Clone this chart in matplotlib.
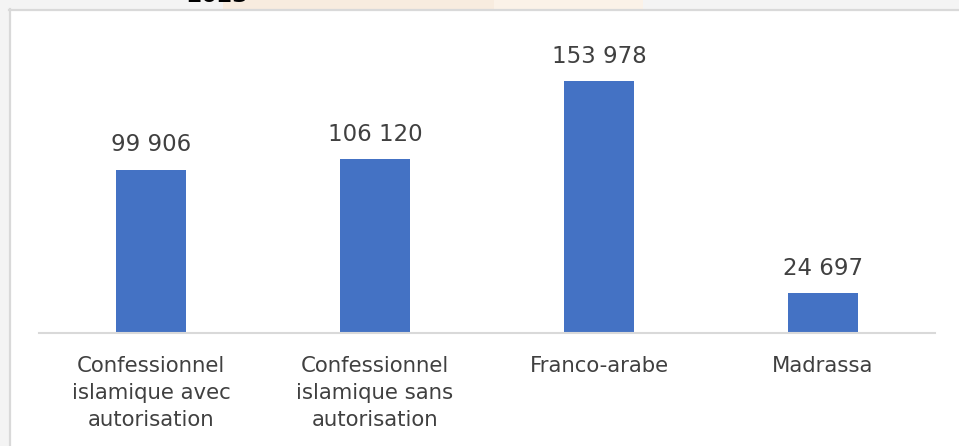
"""Effectifs par type d'ecole, barres."""
import matplotlib.pyplot as plt
from matplotlib.patches import Rectangle
from matplotlib.lines import Line2D

categories = ["Confessionnel\nislamique avec\nautorisation",
              "Confessionnel\nislamique sans\nautorisation",
              "Franco-arabe",
              "Madrassa"]
values = [99906, 106120, 153978, 24697]
value_labels = ["99 906", "106 120", "153 978", "24 697"]

W, H = 959, 446
TXT = "#404040"
GRID = "#d9d9d9"


def fx(px):
    return px / W


def fy(py):
    return 1 - py / H


def main():
    """Draw chart."""
    fig = plt.figure(figsize=(W / 100, H / 100), dpi=100)
    fig.patch.set_facecolor("white")

    # bandeau du haut (capture rognee)
    fig.add_artist(Rectangle((0, fy(9)), 1, 1 - fy(9), transform=fig.transFigure,
                             facecolor="#f4f4f4", edgecolor="none", zorder=0))
    fig.add_artist(Rectangle((0, 0), fx(9), 1, transform=fig.transFigure,
                             facecolor="#f4f4f4", edgecolor="none", zorder=0))
    fig.add_artist(Rectangle((fx(223), fy(9)), fx(271), 1 - fy(9),
                             transform=fig.transFigure, facecolor="#f8ecdf",
                             edgecolor="none", zorder=0))
    fig.add_artist(Rectangle((fx(494), fy(9)), fx(149), 1 - fy(9),
                             transform=fig.transFigure, facecolor="#fbf2e8",
                             edgecolor="none", zorder=0))
    fig.text(fx(217), fy(2), "2023", ha="center", va="baseline",
             fontsize=16, fontweight="bold", color="black")
    fig.add_artist(Line2D([fx(9), 1], [fy(9.5), fy(9.5)], color=GRID, lw=1.6,
                          transform=fig.transFigure))
    fig.add_artist(Line2D([fx(9.5), fx(9.5)], [0, fy(9)], color=GRID, lw=1.6,
                          transform=fig.transFigure))

    ax = fig.add_axes([fx(39), fy(333), fx(935 - 39), (333 - 9) / H])
    ax.set_facecolor("none")
    x = range(len(categories))
    ax.bar(x, values, width=0.3125, color="#4472c4", zorder=2)
    for xi, v, lab in zip(x, values, value_labels):
        ax.annotate(lab, (xi, v), xytext=(0, 13), textcoords="offset points",
                    ha="center", va="baseline", fontsize=16.5, color=TXT)

    ax.set_xlim(-0.5, 3.5)
    ax.set_ylim(0, 198000)
    ax.set_xticks(list(x))
    ax.set_xticklabels(categories, fontsize=15.3, color=TXT, linespacing=1.45)
    ax.tick_params(axis="x", length=0, pad=16.5)
    ax.set_yticks([])
    for s in ["top", "right", "left"]:
        ax.spines[s].set_visible(False)
    ax.spines["bottom"].set_color(GRID)
    ax.spines["bottom"].set_linewidth(1.5)

    fig.savefig("out.png", dpi=100)


if __name__ == '__main__':
    main()
